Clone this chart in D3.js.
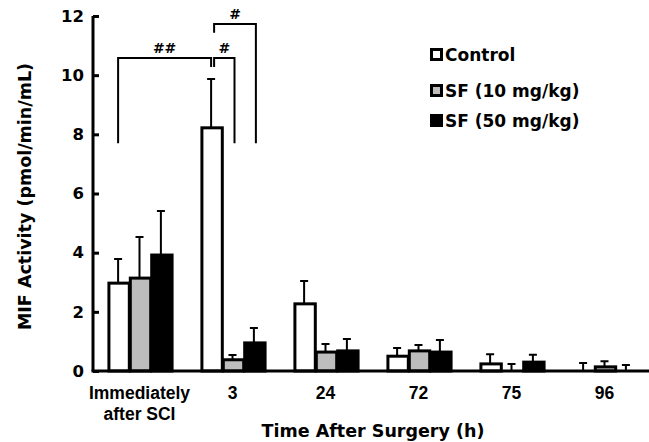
<!DOCTYPE html>
<html>
<head>
<meta charset="utf-8">
<script src="https://cdn.jsdelivr.net/npm/d3@7"></script>
<style>
  body { margin: 0; background: #fff; }
  svg { display: block; font-family: "DejaVu Sans", Verdana, sans-serif; font-weight: bold; }
</style>
</head>
<body>
<div id="chart"></div>
<script>
// Timepoints and series
const groups = ["Immediately after SCI", "3", "24", "72", "75", "96"];
const series = ["Control", "SF (10 mg/kg)", "SF (50 mg/kg)"];
const colors = ["#ffffff", "#bdbdbd", "#000000"];

// means and upper error (SD) per series
const controlMean = [2.97, 8.22, 2.27, 0.50, 0.24, 0.02];
const controlErr  = [0.82, 1.65, 0.77, 0.28, 0.33, 0.25];
const sf10Mean    = [3.14, 0.38, 0.64, 0.68, 0.00, 0.14];
const sf10Err     = [1.39, 0.16, 0.27, 0.20, 0.24, 0.19];
const sf50Mean    = [3.92, 0.95, 0.68, 0.64, 0.30, 0.00];
const sf50Err     = [1.49, 0.50, 0.40, 0.41, 0.25, 0.20];

const yTicks = [0, 2, 4, 6, 8, 10, 12];

// significance brackets: [fromGroup, fromSeries, toGroup, toSeries, level, leftLeg, rightLeg, label]
const brackets = [
  [0, 0, 1, 0, 10.58, 7.7, 10.28, "##"],
  [1, 0, 1, 1, 10.58, 10.28, 7.7, "#"],
  [1, 0, 1, 2, 11.73, 11.43, 7.7, "#"]
];

const width = 649, height = 442;
const x0 = 93, x1 = 651;

const data = groups.map((g, i) => ({
  group: g,
  values: [
    { s: 0, mean: controlMean[i], err: controlErr[i] },
    { s: 1, mean: sf10Mean[i], err: sf10Err[i] },
    { s: 2, mean: sf50Mean[i], err: sf50Err[i] }
  ]
}));

const svg = d3.select("#chart").append("svg")
  .attr("width", width)
  .attr("height", height);

const x = d3.scaleBand()
  .domain(groups)
  .range([x0, x1])
  .paddingInner(0.31)
  .paddingOuter(0.155);

const xs = d3.scaleBand()
  .domain([0, 1, 2])
  .range([0, x.bandwidth()]);

const y = d3.scaleLinear()
  .domain([0, 12])
  .range([371, 16]);

// bars
const gBars = svg.append("g");
const bar = gBars.selectAll("g")
  .data(data)
  .join("g")
  .attr("transform", d => `translate(${x(d.group)},0)`);

// error bars (drawn first so the bar outline sits on top)
bar.selectAll("path.err")
  .data(d => d.values)
  .join("path")
  .attr("class", "err")
  .attr("fill", "none")
  .attr("stroke", "#000")
  .attr("stroke-width", 2)
  .attr("d", v => {
    const cx = xs(v.s) + xs.bandwidth() / 2;
    const top = y(v.mean + v.err);
    return `M${cx},${y(v.mean)}V${top}M${cx - 4},${top}H${cx + 4}`;
  });

bar.selectAll("rect")
  .data(d => d.values)
  .join("rect")
  .attr("x", v => xs(v.s) + 1.5)
  .attr("width", xs.bandwidth() - 1)
  .attr("y", v => y(v.mean))
  .attr("height", v => Math.max(0, y(0) - y(v.mean)))
  .attr("fill", v => colors[v.s])
  .attr("stroke", "#000")
  .attr("stroke-width", v => v.mean > 0.05 ? 3 : 0);

// y axis
const yAxis = svg.append("g")
  .attr("transform", `translate(${x0},0)`)
  .call(d3.axisRight(y).tickValues(yTicks).tickSize(6).tickFormat(d3.format("d")));
yAxis.select(".domain").attr("stroke-width", 3).attr("d", `M0,${y(12)}V${y(0)}`);
yAxis.selectAll(".tick line").attr("stroke-width", 3);
yAxis.selectAll(".tick text")
  .attr("x", -9)
  .attr("text-anchor", "end")
  .attr("font-size", 16.5)
  .attr("font-family", "DejaVu Sans")
  .attr("font-weight", "bold");

// x axis
const xAxis = svg.append("g")
  .attr("transform", `translate(0,${y(0)})`)
  .call(d3.axisBottom(x).tickSize(0).tickFormat(""));
xAxis.select(".domain").attr("stroke-width", 3).attr("d", `M${x0 - 1.5},0H${width}`);
xAxis.selectAll(".tick").each(function (d) {
  const words = d === groups[0] ? ["Immediately", "after SCI"] : [d];
  const t = d3.select(this).append("text")
    .attr("fill", "#000")
    .attr("font-size", 17.5)
    .attr("font-weight", "bold")
    .attr("text-anchor", "middle");
  words.forEach((w, i) => t.append("tspan").attr("x", 0).attr("y", 28 + i * 21).text(w));
});

// axis titles
svg.append("text")
  .attr("transform", `translate(31,${(58 + 335) / 2}) rotate(-90)`)
  .attr("text-anchor", "middle")
  .attr("font-size", 17.5)
  .text("MIF Activity (pmol/min/mL)");

svg.append("text")
  .attr("x", 373)
  .attr("y", 437)
  .attr("text-anchor", "middle")
  .attr("font-size", 17.5)
  .text("Time After Surgery (h)");

// significance brackets
const cxOf = (g, s) => x(groups[g]) + xs(s) + xs.bandwidth() / 2;
const gBr = svg.append("g");
brackets.forEach(([g0, s0, g1, s1, level, l0, l1, label], i) => {
  const xa = cxOf(g0, s0) + (i > 0 ? 3 : 0);
  const xb = cxOf(g1, s1) + (i === 0 ? 0 : 2);
  gBr.append("path")
    .attr("fill", "none")
    .attr("stroke", "#000")
    .attr("stroke-width", 2)
    .attr("d", `M${xa},${y(l0)}V${y(level)}H${xb}V${y(l1)}`);
  gBr.append("text")
    .attr("x", (xa + xb) / 2)
    .attr("y", y(level) - 5)
    .attr("text-anchor", "middle")
    .attr("font-size", 14)
    .text(label);
});

// legend
const legend = svg.append("g").attr("transform", "translate(430,55)");
const li = legend.selectAll("g")
  .data(series)
  .join("g")
  .attr("transform", (d, i) => `translate(0,${[0, 36, 66][i]})`);
li.append("rect")
  .attr("x", 1.5).attr("y", -5.5)
  .attr("width", 10).attr("height", 10)
  .attr("fill", (d, i) => colors[i])
  .attr("stroke", "#000")
  .attr("stroke-width", 3);
li.append("text")
  .attr("x", 15)
  .attr("dy", "0.36em")
  .attr("font-size", 17)
  .text(d => d);
</script>
</body>
</html>
